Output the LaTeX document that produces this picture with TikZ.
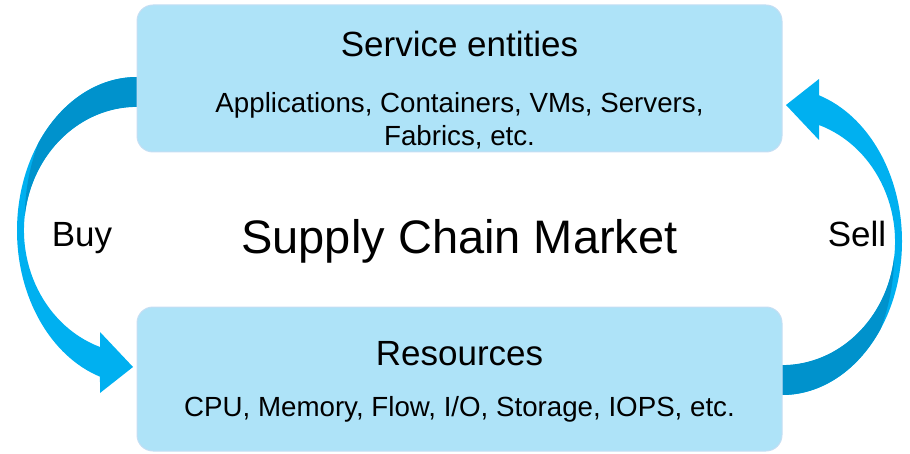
\documentclass[tikz,border=0pt]{standalone}
\usepackage{fontspec}
\setmainfont{Liberation Sans}
\usetikzlibrary{calc}
\definecolor{boxfill}{RGB}{174,227,248}
\definecolor{boxline}{RGB}{197,222,243}
\definecolor{arrowlight}{RGB}{0,176,240}
\definecolor{arrowdark}{RGB}{0,146,204}
\tikzset{
	marketbox/.style={draw=boxline, line width=1pt, fill=boxfill, rounded corners=16pt, minimum width=645pt},
	headtext/.style={anchor=base, font=\fontsize{35}{42}\selectfont},
	listtext/.style={anchor=base, font=\fontsize{27.7}{33}\selectfont},
	sidetext/.style={anchor=base, font=\fontsize{35}{42}\selectfont},
}
% curved block arrow, tail at the upper right, head at the lower right
\def\bentarrow[#1]{
	\begin{scope}[#1]
		\fill[arrowlight] (137,376) arc[start angle=90, end angle=252.04, x radius=120pt, y radius=153.6pt]
			-- (100,60) -- (133,86) -- (100,121) -- (100,106)
			arc[start angle=250.89, end angle=90, x radius=113pt, y radius=123.6pt] -- cycle;
		\fill[arrowdark] (137,376) arc[start angle=90, end angle=145.3, x radius=120pt, y radius=153.6pt]
			.. controls (29,285) and (25,260) .. (24.9,238)
			arc[start angle=172.8, end angle=90, x radius=113pt, y radius=123.6pt] -- cycle;
	\end{scope}
}

\begin{document}
\begin{tikzpicture}[x=1pt, y=1pt]
	%%%%% START %%%%%
	\useasboundingbox (0,0) rectangle (910,453);
	
	\bentarrow[]
	\bentarrow[rotate around={180:(459.5,217)}]
	
	\node[marketbox, minimum height=147pt] (service) at (459.5,374.5) {};
	\node[headtext] (servicetitle) at (459.5,396.3) {Service entities};
	\node[listtext] (servicelist) at (459.5,340.7) {Applications, Containers, VMs, Servers,};
	\node[listtext] (servicemore) at (459.5,307.7) {Fabrics, etc.};
	
	\node[marketbox, minimum height=144pt] (resource) at (459.5,74) {};
	\node[headtext] (resourcetitle) at (459.5,88) {Resources};
	\node[listtext] (resourcelist) at (459.5,36.3) {CPU, Memory, Flow, I/O, Storage, IOPS, etc.};
	
	\node[anchor=base, font=\fontsize{47}{56}\selectfont] (market) at (459.5,200) {Supply Chain Market};
	\node[sidetext] (buy) at (82,206.3) {Buy};
	\node[sidetext] (sell) at (857,206.3) {Sell};
	%%%%% END %%%%%
\end{tikzpicture}
\end{document}
